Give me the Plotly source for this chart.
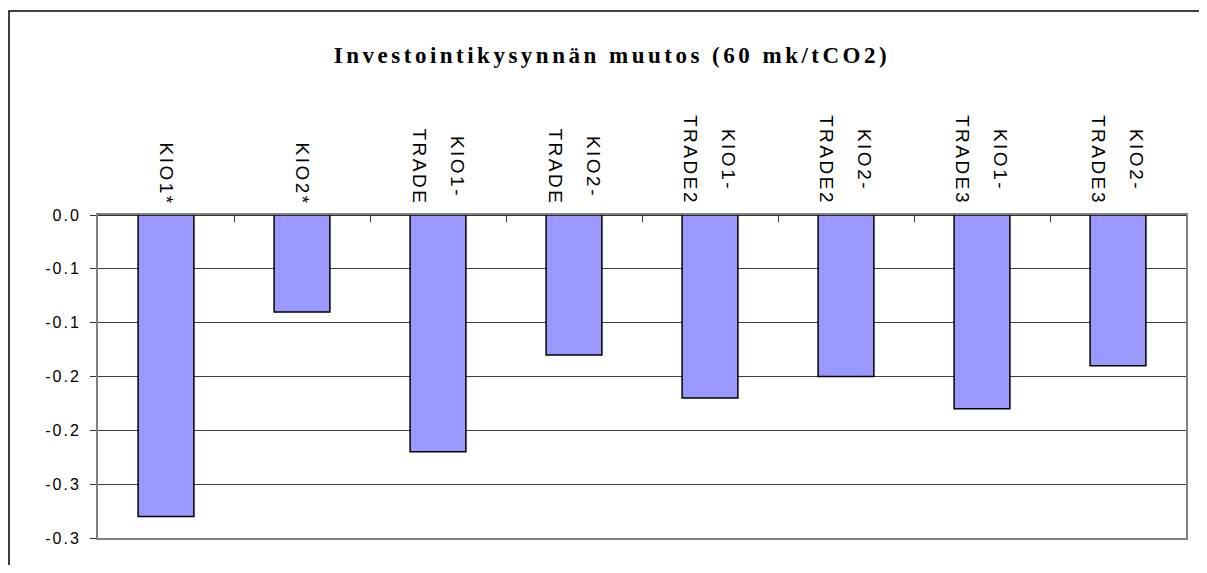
import plotly.graph_objects as go

# Investment demand change per scenario (60 mk/tCO2)
categories = ["KIO1*", "KIO2*", "KIO1-TRADE", "KIO2-TRADE",
              "KIO1-TRADE2", "KIO2-TRADE2", "KIO1-TRADE3", "KIO2-TRADE3"]
values = [-0.28, -0.09, -0.22, -0.13, -0.17, -0.15, -0.18, -0.14]
ytick_values = [0.0, -0.05, -0.10, -0.15, -0.20, -0.25, -0.30]
ytick_labels = ["0.0", "-0.1", "-0.1", "-0.2", "-0.2", "-0.3", "-0.3"]
title_text = "Investointikysynnän muutos (60 mk/tCO2)"

# the page body adds an 8px margin, so the figure is drawn 8px in
PAD = 8
W, H = 1207 - 2 * PAD, 573 - 2 * PAD
ML, MT = 98 - PAD, 215 - PAD
MR = W - (1186 - PAD)
MB = H - (538 - PAD)


def spaced(s, size, spacing):
    return f'<span style="font-size:{size}px;letter-spacing:{spacing}px">{s}</span>'


def label_lines(name):
    # Excel wraps after the hyphen
    if "-" in name:
        head, tail = name.split("-", 1)
        return [head + "-", tail]
    return [name]


fig = go.Figure()
fig.add_trace(go.Bar(
    x=categories,
    y=values,
    marker=dict(color="#9999FF", line=dict(color="#000000", width=1.5)),
    width=0.41,
    showlegend=False,
    hoverinfo="x+y",
))

# rotated category labels above the zero axis
for cat in categories:
    text = "<br>".join(spaced(l, 19, 2.5) for l in label_lines(cat))
    fig.add_annotation(
        x=cat, xref="x", y=1, yref="paper",
        text=text, textangle=90, showarrow=False,
        xanchor="center", yanchor="bottom", yshift=8, align="center",
        font=dict(family="Liberation Sans, Arial", size=29, color="#000000"),
    )

# outer chart frame (left edge sits right at the figure edge)
plot_w = W - ML - MR
plot_h = H - MT - MB
fig.add_shape(
    type="rect", xref="paper", yref="paper",
    x0=(1 - ML) / plot_w, x1=1.2,
    y0=-0.6, y1=1 + (MT - (11 - PAD)) / plot_h,
    line=dict(color="#000000", width=1.5), fillcolor="rgba(0,0,0,0)",
)

fig.update_layout(
    width=W, height=H,
    margin=dict(l=ML, r=MR, t=MT, b=MB, autoexpand=False),
    paper_bgcolor="#ffffff",
    plot_bgcolor="#ffffff",
    title=dict(
        text="<b>" + spaced(title_text, 23, 3.5) + "</b>",
        x=(612 - PAD) / W, xref="container", xanchor="center",
        y=1 - (55 - PAD) / H, yref="container", yanchor="middle",
        font=dict(family="Liberation Serif, Times New Roman", size=23, color="#000000"),
    ),
    bargap=0.6,
    xaxis=dict(
        type="category",
        side="top",
        showticklabels=False,
        ticks="inside", ticklen=7, tickcolor="#333333", tickson="boundaries",
        showline=True, linecolor="#808080", linewidth=2, mirror=True,
        showgrid=False, zeroline=False,
    ),
    yaxis=dict(
        range=[-0.3, 0],
        tickvals=ytick_values,
        ticktext=[spaced(t, 16, 2) for t in ytick_labels],
        tickfont=dict(family="Liberation Sans, Arial", size=16, color="#000000"),
        ticks="outside", ticklen=6, tickcolor="#333333",
        ticklabelstandoff=6,
        showgrid=True, gridcolor="#404040", gridwidth=1,
        zeroline=True, zerolinecolor="#333333", zerolinewidth=1.5,
        showline=True, linecolor="#808080", linewidth=2, mirror=True,
        automargin=False,
    ),
)

fig.write_html("out.html")
